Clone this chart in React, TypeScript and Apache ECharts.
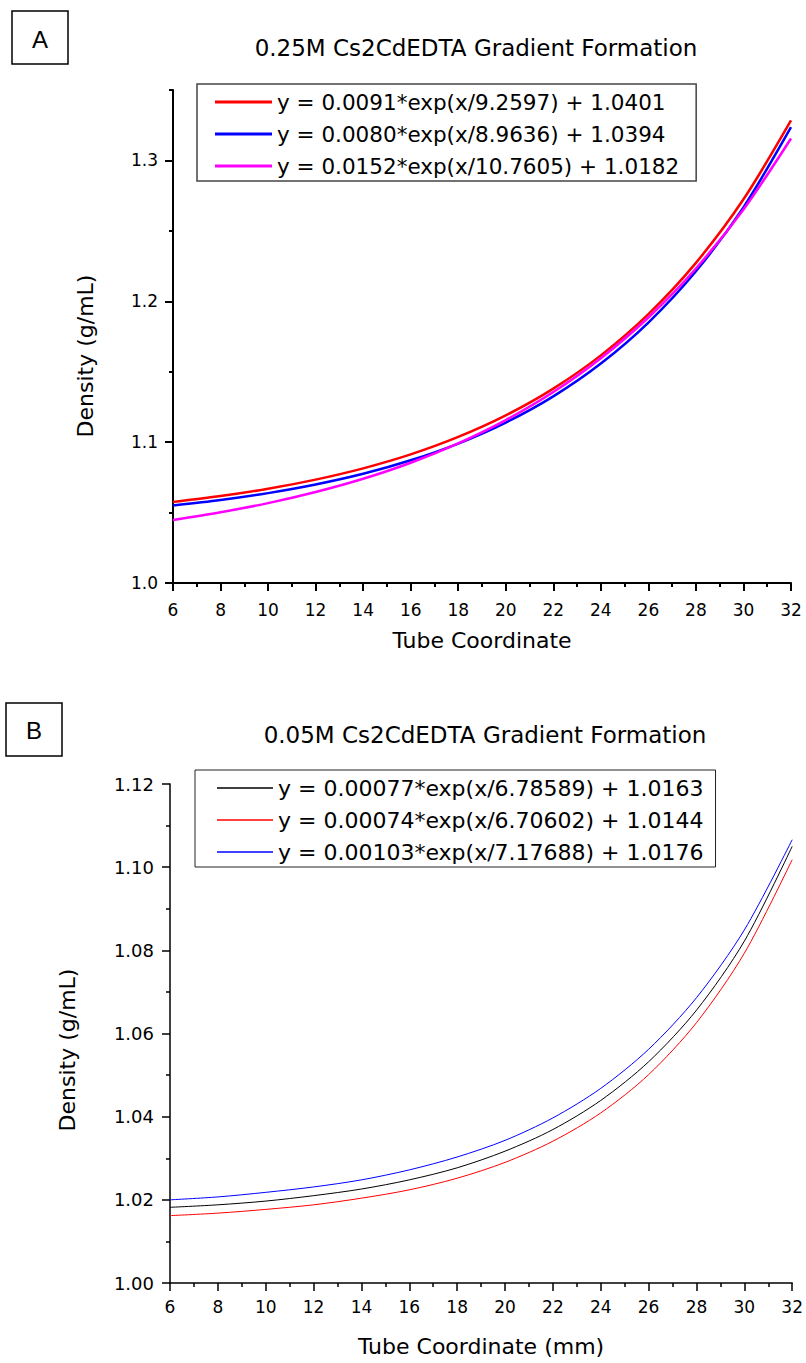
import React, { useEffect, useRef } from "react";
import * as echarts from "echarts";

// ---- Data ----
const xs = [6, 8, 10, 12, 14, 16, 18, 20, 22, 24, 26, 28, 30, 32];

const aNames = [
  "y = 0.0091*exp(x/9.2597) + 1.0401",
  "y = 0.0080*exp(x/8.9636) + 1.0394",
  "y = 0.0152*exp(x/10.7605) + 1.0182",
];
const aRed = [1.0575, 1.0617, 1.0669, 1.0734, 1.0814, 1.0913, 1.1037, 1.119, 1.138, 1.1616, 1.1909, 1.2273, 1.2724, 1.3284];
const aBlue = [1.055, 1.0589, 1.0638, 1.0699, 1.0775, 1.0871, 1.099, 1.1139, 1.1325, 1.1558, 1.1849, 1.2213, 1.2667, 1.3236];
const aMagenta = [1.0447, 1.0502, 1.0567, 1.0646, 1.074, 1.0854, 1.0992, 1.1157, 1.1356, 1.1596, 1.1885, 1.2233, 1.2652, 1.3156];

const bNames = [
  "y = 0.00077*exp(x/6.78589) + 1.0163",
  "y = 0.00074*exp(x/6.70602) + 1.0144",
  "y = 0.00103*exp(x/7.17688) + 1.0176",
];
const bBlack = [1.0182, 1.0188, 1.0197, 1.021, 1.0226, 1.0248, 1.0277, 1.0317, 1.0369, 1.0439, 1.0532, 1.0656, 1.0822, 1.105];
const bRed = [1.0162, 1.0168, 1.0177, 1.0188, 1.0204, 1.0224, 1.0252, 1.029, 1.0341, 1.0409, 1.0501, 1.0626, 1.0793, 1.1018];
const bBlue = [1.02, 1.0207, 1.0218, 1.0231, 1.0248, 1.0272, 1.0303, 1.0343, 1.0397, 1.0468, 1.0562, 1.0686, 1.0849, 1.1066];

const aYMajor = [1.0, 1.1, 1.2, 1.3];

const FONT = "DejaVu Sans";

const pair = (ys: number[]) => xs.map((x, i) => [x, ys[i]]);

export default function App() {
  const ref = useRef<HTMLDivElement>(null);
  useEffect(() => {
    if (!ref.current) return;
    const chart = echarts.init(ref.current, null, { renderer: "svg" });

    const xAxisBase = (gridIndex: number, lw: number, margin: number, name: string, nameGap: number) => ({
      type: "value",
      gridIndex,
      min: 6,
      max: 32,
      interval: 2,
      name,
      nameLocation: "middle",
      nameGap,
      nameTextStyle: { fontFamily: FONT, fontSize: 22, color: "#000" },
      axisLine: { show: true, onZero: false, lineStyle: { color: "#000", width: lw } },
      axisTick: { show: true, inside: false, length: 8, lineStyle: { color: "#000", width: lw } },
      minorTick: { show: true, splitNumber: 2, length: 4, lineStyle: { color: "#000", width: lw } },
      axisLabel: { fontFamily: FONT, fontSize: 17, color: "#000", margin },
      splitLine: { show: false },
      minorSplitLine: { show: false },
    });

    const lineSeries = (name: string, data: number[], color: string, xi: number, yi: number, w: number) => ({
      type: "line",
      name,
      data: pair(data),
      xAxisIndex: xi,
      yAxisIndex: yi,
      showSymbol: false,
      symbol: "none",
      smooth: 0.3,
      color,
      itemStyle: { color },
      lineStyle: { color, width: w },
      silent: true,
    });

    const option: any = {
      animation: false,
      backgroundColor: "#fff",
      title: [
        {
          text: "0.25M Cs2CdEDTA Gradient Formation",
          left: 476,
          top: 36,
          textAlign: "center",
          padding: 0,
          textStyle: { fontFamily: FONT, fontSize: 23, fontWeight: "normal", color: "#000" },
        },
        {
          text: "0.05M Cs2CdEDTA Gradient Formation",
          left: 485,
          top: 723,
          textAlign: "center",
          padding: 0,
          textStyle: { fontFamily: FONT, fontSize: 23, fontWeight: "normal", color: "#000" },
        },
      ],
      legend: [
        {
          data: aNames,
          orient: "vertical",
          left: 197,
          top: 84,
          padding: [7, 17, 4, 18],
          itemGap: 10,
          itemWidth: 57,
          itemHeight: 3,
          itemTextGap: 7,
          icon: "rect",
          borderColor: "#444",
          borderWidth: 1.5,
          selectedMode: false,
          textStyle: { fontFamily: FONT, fontSize: 21.5, lineHeight: 22, color: "#000" },
        },
        {
          data: bNames,
          orient: "vertical",
          left: 195,
          top: 770,
          padding: [7, 12, 4, 22],
          itemGap: 10,
          itemWidth: 56,
          itemHeight: 1.5,
          itemTextGap: 9,
          icon: "rect",
          borderColor: "#222",
          borderWidth: 1,
          selectedMode: false,
          textStyle: { fontFamily: FONT, fontSize: 22, lineHeight: 22, color: "#000" },
        },
      ],
      grid: [
        { left: 173, top: 90, width: 618, height: 493, containLabel: false },
        { left: 170, top: 784, width: 625, height: 499, containLabel: false },
      ],
      xAxis: [
        xAxisBase(0, 2, 18, "Tube Coordinate", 46),
        xAxisBase(1, 1.5, 15, "Tube Coordinate (mm)", 52),
      ],
      yAxis: [
        {
          type: "value",
          gridIndex: 0,
          position: "left",
          offset: 0,
          min: 1.0,
          max: 1.35,
          interval: 0.05,
          axisLine: { show: true, onZero: false, lineStyle: { color: "#000", width: 2 } },
          axisTick: { show: true, inside: false, length: 4, lineStyle: { color: "#000", width: 2 } },
          axisLabel: { show: false },
          splitLine: { show: false },
        },
        {
          type: "value",
          gridIndex: 0,
          position: "left",
          offset: 0,
          min: 1.0,
          max: 1.35,
          axisLine: { show: false },
          axisTick: { show: true, inside: false, length: 8, customValues: aYMajor, lineStyle: { color: "#000", width: 2 } },
          axisLabel: {
            show: true,
            customValues: aYMajor,
            formatter: (v: number) => v.toFixed(1),
            fontFamily: FONT,
            fontSize: 17,
            color: "#000",
            margin: 15,
          },
          splitLine: { show: false },
        },
        {
          type: "value",
          gridIndex: 1,
          position: "left",
          min: 1.0,
          max: 1.12,
          interval: 0.02,
          axisLine: { show: true, onZero: false, lineStyle: { color: "#000", width: 1.5 } },
          axisTick: { show: true, inside: false, length: 8, lineStyle: { color: "#000", width: 1.5 } },
          minorTick: { show: true, splitNumber: 2, length: 4, lineStyle: { color: "#000", width: 1.5 } },
          axisLabel: {
            formatter: (v: number) => v.toFixed(2),
            fontFamily: FONT,
            fontSize: 18,
            color: "#000",
            margin: 16,
          },
          splitLine: { show: false },
          minorSplitLine: { show: false },
        },
      ],
      series: [
        lineSeries(aNames[0], aRed, "#ff0000", 0, 0, 2.5),
        lineSeries(aNames[1], aBlue, "#0000ff", 0, 0, 2.5),
        lineSeries(aNames[2], aMagenta, "#ff00ff", 0, 0, 2.5),
        lineSeries(bNames[0], bBlack, "#000000", 1, 2, 1),
        lineSeries(bNames[1], bRed, "#ff0000", 1, 2, 1),
        lineSeries(bNames[2], bBlue, "#0000ff", 1, 2, 1),
      ],
      graphic: [
        { type: "rect", shape: { x: 12, y: 11, width: 56, height: 53 }, style: { fill: "none", stroke: "#000", lineWidth: 1.5 } },
        { type: "text", x: 40, y: 39, style: { text: "A", fontFamily: "Liberation Sans", fontSize: 24, fill: "#000", align: "center", verticalAlign: "middle" } },
        { type: "rect", shape: { x: 6, y: 703, width: 56, height: 53 }, style: { fill: "none", stroke: "#000", lineWidth: 1.5 } },
        { type: "text", x: 34, y: 730, style: { text: "B", fontFamily: "Liberation Sans", fontSize: 24, fill: "#000", align: "center", verticalAlign: "middle" } },
        { type: "text", x: 85, y: 356, rotation: Math.PI / 2, style: { text: "Density (g/mL)", fontFamily: FONT, fontSize: 22, fill: "#000", align: "center", verticalAlign: "middle" } },
        { type: "text", x: 67, y: 1050, rotation: Math.PI / 2, style: { text: "Density (g/mL)", fontFamily: FONT, fontSize: 22, fill: "#000", align: "center", verticalAlign: "middle" } },
      ],
    };

    chart.setOption(option);
    return () => chart.dispose();
  }, []);

  return (
    <div
      ref={ref}
      style={{ position: "absolute", left: 0, top: 0, width: 806, height: 1363, background: "#fff" }}
    />
  );
}
